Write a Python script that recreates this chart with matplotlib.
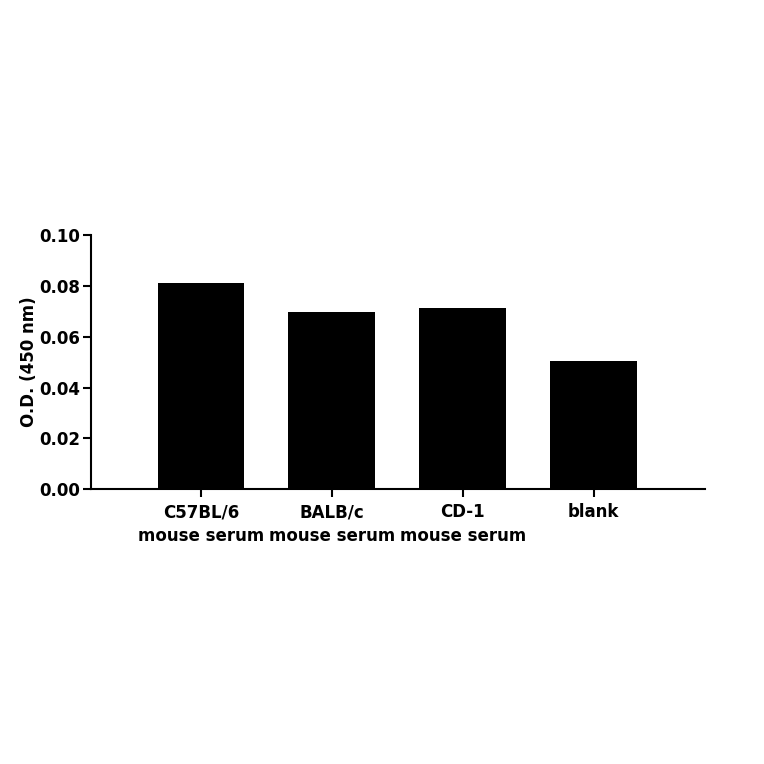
import matplotlib
matplotlib.use("Agg")
import matplotlib.pyplot as plt

# O.D. readings at 450 nm
samples = ['C57BL/6\nmouse serum', 'BALB/c\nmouse serum', 'CD-1\nmouse serum', 'blank']
od_values = [0.0811, 0.0696, 0.0711, 0.0504]

plt.rcParams['font.family'] = ['DejaVu Sans']
plt.rcParams['font.weight'] = 'bold'

fig = plt.figure(figsize=(7.64, 7.64), dpi=100)
ax = fig.add_axes([91/764, 1 - 489.3/764, (705 - 91)/764, (489.3 - 235)/764])

x = list(range(len(samples)))
ax.bar(x, od_values, width=0.664, color='black')

ax.set_xlim(-0.84, 3.85)
ax.set_ylim(0, 0.10)
ax.set_yticks([0.00, 0.02, 0.04, 0.06, 0.08, 0.10])
ax.set_yticklabels(['0.00', '0.02', '0.04', '0.06', '0.08', '0.10'])
ax.set_xticks(x)
ax.set_xticklabels(samples, linespacing=1.45)
ax.set_ylabel('O.D. (450 nm)', fontsize=12, fontweight='bold', labelpad=1)

for side in ['top', 'right']:
    ax.spines[side].set_visible(False)
for side in ['left', 'bottom']:
    ax.spines[side].set_linewidth(1.5)
ax.tick_params(axis='both', direction='out', length=6, width=1.5, labelsize=12)
ax.tick_params(axis='y', pad=1.5)
ax.tick_params(axis='x', pad=4)

plt.savefig('out.png', dpi=100)
